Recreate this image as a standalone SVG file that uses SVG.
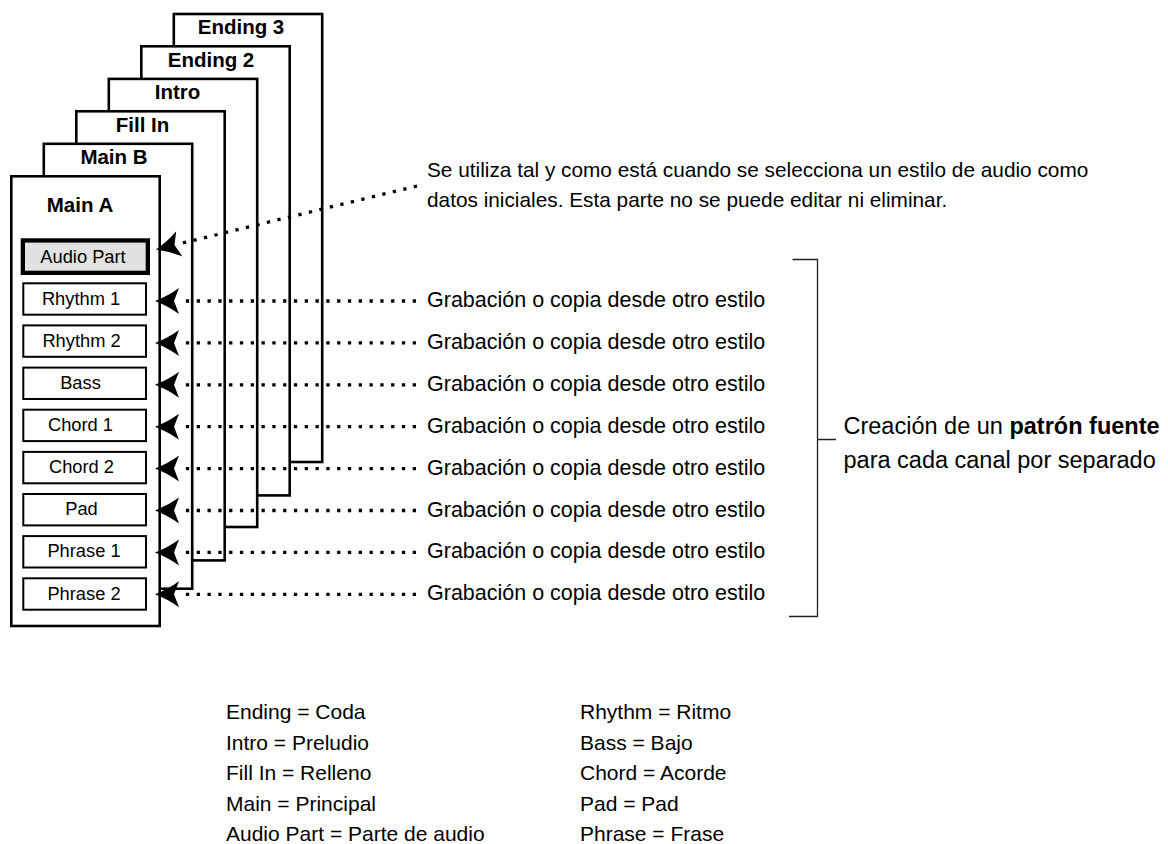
<svg xmlns="http://www.w3.org/2000/svg" width="1168" height="844" viewBox="0 0 1168 844">
<style>
  text{font-family:"Liberation Sans",Arial,Helvetica,sans-serif;fill:#000}
  .card{fill:#fff;stroke:#000;stroke-width:2.6}
  .title{font-weight:bold;font-size:20.5px;text-anchor:middle}
  .part{fill:#fff;stroke:#000;stroke-width:2}
  .audio{fill:#e2e2e2;stroke:#000;stroke-width:4.3}
  .plabel{font-size:18.3px;text-anchor:middle}
  .dots{fill:none;stroke:#000;stroke-width:3.3;stroke-dasharray:3.3 7.5;marker-end:url(#ah)}
  .note{font-size:21.5px}
  .top{font-size:20.8px}
  .bracket{fill:none;stroke:#222;stroke-width:1.3}
  .side{font-size:23.5px}
  .leg{font-size:21px}
</style>
<defs>
  <marker id="ah" markerUnits="userSpaceOnUse" markerWidth="30" markerHeight="30" refX="-24" refY="0" orient="auto" overflow="visible">
    <path d="M0,0 Q-13,-5 -24,-13 L-19,0 L-24,13 Q-13,5 0,0 Z" fill="#000"/>
  </marker>
</defs>

<g id="card-ending3">
  <rect class="card" x="173.8" y="14" width="148.4" height="448"/>
  <text class="title" x="241" y="34.2">Ending 3</text>
</g>
<g id="card-ending2">
  <rect class="card" x="141.3" y="46.3" width="148.4" height="449.1"/>
  <text class="title" x="211" y="66.5">Ending 2</text>
</g>
<g id="card-intro">
  <rect class="card" x="108.8" y="78.9" width="148.4" height="448.1"/>
  <text class="title" x="177.5" y="99">Intro</text>
</g>
<g id="card-fillin">
  <rect class="card" x="76.3" y="111.3" width="148.4" height="449.1"/>
  <text class="title" x="142.5" y="131.5">Fill In</text>
</g>
<g id="card-mainb">
  <rect class="card" x="43.8" y="143.8" width="148.4" height="444.9"/>
  <text class="title" x="114" y="164">Main B</text>
</g>
<g id="card-maina">
  <rect class="card" x="11.3" y="176.3" width="148.4" height="449.7"/>
  <text class="title" x="80" y="212">Main A</text>
</g>

<g id="part-audio">
  <rect class="audio" x="22.85" y="240.45" width="125" height="32.4"/>
  <text class="plabel" x="83" y="262.7">Audio Part</text>
</g>
<g id="part-rhythm1">
  <rect class="part" x="23.3" y="283.3" width="122.7" height="31.4"/>
  <text class="plabel" x="81" y="304.5">Rhythm 1</text>
</g>
<g id="part-rhythm2">
  <rect class="part" x="23.3" y="325.4" width="122.7" height="31.4"/>
  <text class="plabel" x="81.5" y="346.6">Rhythm 2</text>
</g>
<g id="part-bass">
  <rect class="part" x="23.3" y="367.6" width="122.7" height="31.4"/>
  <text class="plabel" x="80.5" y="388.8">Bass</text>
</g>
<g id="part-chord1">
  <rect class="part" x="23.3" y="409.7" width="122.7" height="31.4"/>
  <text class="plabel" x="80.5" y="430.9">Chord 1</text>
</g>
<g id="part-chord2">
  <rect class="part" x="23.3" y="451.9" width="122.7" height="31.4"/>
  <text class="plabel" x="81.5" y="473.1">Chord 2</text>
</g>
<g id="part-pad">
  <rect class="part" x="23.3" y="494" width="122.7" height="31.4"/>
  <text class="plabel" x="81.5" y="515.2">Pad</text>
</g>
<g id="part-phrase1">
  <rect class="part" x="23.3" y="536.1" width="122.7" height="31.4"/>
  <text class="plabel" x="84" y="557.3">Phrase 1</text>
</g>
<g id="part-phrase2">
  <rect class="part" x="23.3" y="578.3" width="122.7" height="31.4"/>
  <text class="plabel" x="84" y="599.5">Phrase 2</text>
</g>

<g id="connectors">
  <line class="dots" x1="417" y1="186" x2="179.3" y2="243.8"/>
  <line class="dots" x1="416" y1="301" x2="179" y2="301"/>
  <line class="dots" x1="416" y1="342.9" x2="179" y2="342.9"/>
  <line class="dots" x1="416" y1="384.8" x2="179" y2="384.8"/>
  <line class="dots" x1="416" y1="426.7" x2="179" y2="426.7"/>
  <line class="dots" x1="416" y1="468.6" x2="179" y2="468.6"/>
  <line class="dots" x1="416" y1="510.5" x2="179" y2="510.5"/>
  <line class="dots" x1="416" y1="552.4" x2="179" y2="552.4"/>
  <line class="dots" x1="416" y1="594.3" x2="179" y2="594.3"/>
</g>

<g id="notes">
  <text class="top" x="427" y="177">Se utiliza tal y como está cuando se selecciona un estilo de audio como</text>
  <text class="top" x="427" y="207">datos iniciales. Esta parte no se puede editar ni eliminar.</text>
  <text class="note" x="427" y="307">Grabación o copia desde otro estilo</text>
  <text class="note" x="427" y="348.9">Grabación o copia desde otro estilo</text>
  <text class="note" x="427" y="390.8">Grabación o copia desde otro estilo</text>
  <text class="note" x="427" y="432.7">Grabación o copia desde otro estilo</text>
  <text class="note" x="427" y="474.6">Grabación o copia desde otro estilo</text>
  <text class="note" x="427" y="516.5">Grabación o copia desde otro estilo</text>
  <text class="note" x="427" y="558.4">Grabación o copia desde otro estilo</text>
  <text class="note" x="427" y="600.3">Grabación o copia desde otro estilo</text>
</g>

<g id="bracket">
  <path class="bracket" d="M792.5,259.5 H817.5 V616.5 H789 M817.5,439.5 H836"/>
  <text class="side" x="843.5" y="433.5">Creación de un <tspan font-weight="bold">patrón fuente</tspan></text>
  <text class="side" x="843.5" y="467.5">para cada canal por separado</text>
</g>

<g id="legend">
  <text class="leg" x="226" y="719">Ending = Coda</text>
  <text class="leg" x="226" y="750">Intro = Preludio</text>
  <text class="leg" x="226" y="780">Fill In = Relleno</text>
  <text class="leg" x="226" y="810.5">Main = Principal</text>
  <text class="leg" x="226" y="840.5">Audio Part = Parte de audio</text>
  <text class="leg" x="580" y="719">Rhythm = Ritmo</text>
  <text class="leg" x="580" y="750">Bass = Bajo</text>
  <text class="leg" x="580" y="780">Chord = Acorde</text>
  <text class="leg" x="580" y="810.5">Pad = Pad</text>
  <text class="leg" x="580" y="840.5">Phrase = Frase</text>
</g>
</svg>
